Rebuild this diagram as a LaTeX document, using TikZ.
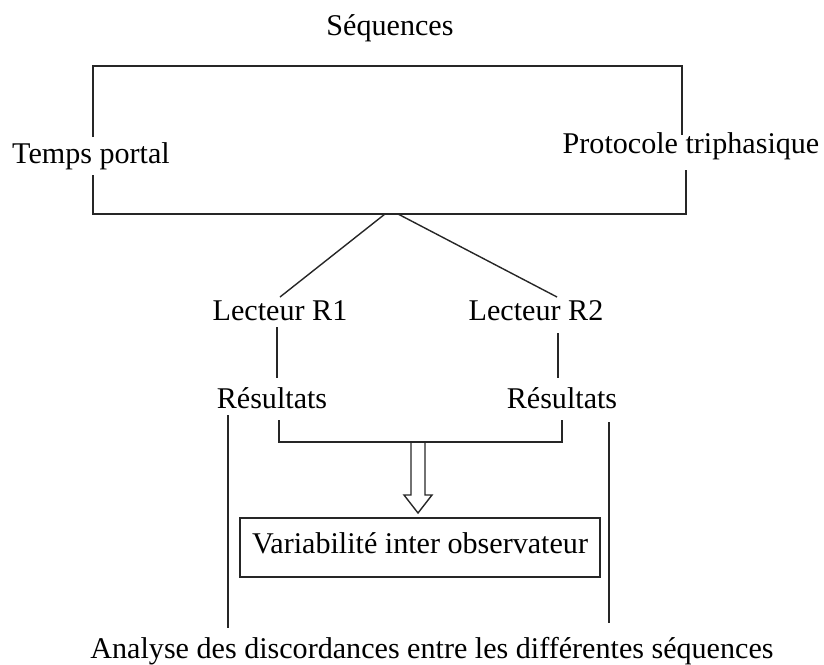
\documentclass[tikz,border=0pt]{standalone}
\usepackage{fontspec}
\setmainfont{Liberation Serif}
\begin{document}
\begin{tikzpicture}[x=1pt,y=-1pt,
  lbl/.style={inner sep=0pt,anchor=base,font=\fontsize{30.1}{34}\selectfont},
  ln/.style={line width=1.4pt,draw=black!85}]
\useasboundingbox (0,0) rectangle (824,664);
% texts
\node[lbl] (seq) at (390,35) {Séquences};
\node[lbl] (tp) at (91,163) {Temps portal};
\node[lbl] (pt) at (691,153) {Protocole triphasique};
\node[lbl] (r1) at (280,320) {Lecteur R1};
\node[lbl] (r2) at (536,320) {Lecteur R2};
\node[lbl] (res1) at (272,408) {Résultats};
\node[lbl] (res2) at (562,408) {Résultats};
\node[lbl] (var) at (420,553) {Variabilité inter observateur};
\node[lbl] (ana) at (432,658) {Analyse des discordances entre les différentes séquences};
% variability box
\draw[ln] (240,518) rectangle (600,577);
\coordinate (vbox) at (418,518);
% big frame
\coordinate (apex) at (392,214);
\draw[ln] (93,137) -- (93,66) -- (682,66) -- (682,135);
\draw[ln] (686,170) -- (686,214) -- (93,214) -- (93,175);
% branches
\draw[ln] (385,214) -- (280,297);
\draw[ln] (398,214) -- (557,297);
\draw[ln] (277,327) -- (277,378);
\draw[ln] (558,333) -- (558,378);
% bracket
\draw[ln] (279,420) -- (279,442) -- (562,442) -- (562,420);
% long lines
\draw[ln] (228,415) -- (228,628);
\draw[ln] (609,422) -- (609,623);
% hollow arrow
\draw[ln,line join=miter] (411,442) -- (411,495) -- (404,495) -- (vbox |- 0,513) -- (432,495) -- (425,495) -- (425,442);
\end{tikzpicture}
\end{document}
